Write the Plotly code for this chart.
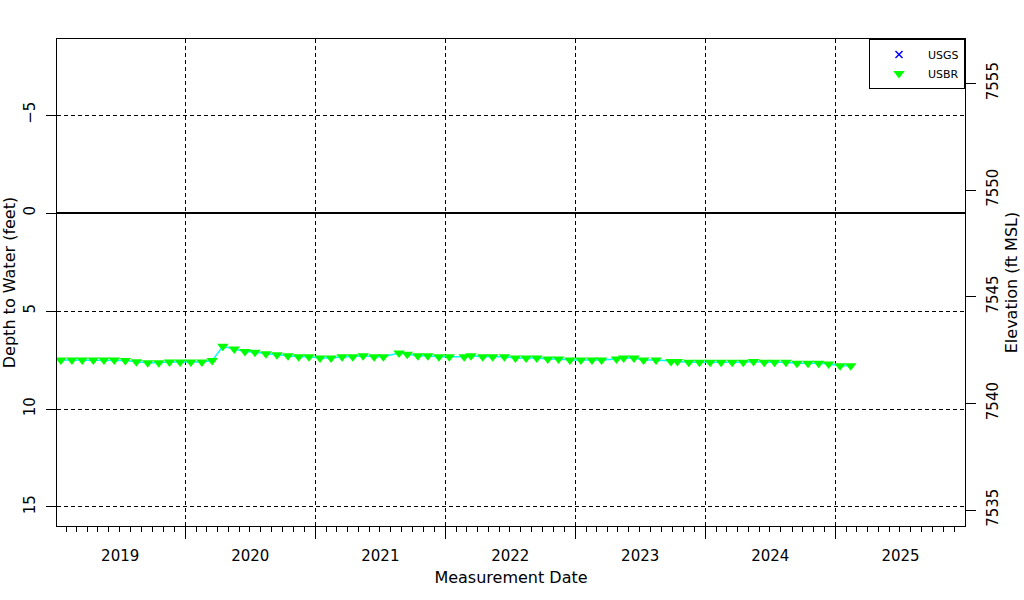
import plotly.graph_objects as go

# ---- data ----
dates = [
    "2019-01-17", "2019-02-17", "2019-03-18", "2019-04-18", "2019-05-18", "2019-06-16",
    "2019-07-17", "2019-08-17", "2019-09-18", "2019-10-19", "2019-11-18", "2019-12-18",
    "2020-01-17", "2020-02-17", "2020-03-17", "2020-04-16", "2020-05-18", "2020-06-17",
    "2020-07-15", "2020-08-15", "2020-09-15", "2020-10-16", "2020-11-15", "2020-12-14",
    "2021-01-14", "2021-02-14", "2021-03-17", "2021-04-16", "2021-05-15", "2021-06-15",
    "2021-07-11", "2021-08-24", "2021-09-16", "2021-10-16", "2021-11-13", "2021-12-14",
    "2022-01-12", "2022-02-23", "2022-03-14", "2022-04-16", "2022-05-14", "2022-06-16",
    "2022-07-17", "2022-08-16", "2022-09-15", "2022-10-16", "2022-11-15", "2022-12-17",
    "2023-01-17", "2023-02-17", "2023-03-16", "2023-04-27", "2023-05-17", "2023-06-15",
    "2023-07-12", "2023-08-16", "2023-09-27", "2023-10-15", "2023-11-16", "2023-12-16",
    "2024-01-15", "2024-02-15", "2024-03-17", "2024-04-17", "2024-05-16", "2024-06-15",
    "2024-07-14", "2024-08-15", "2024-09-15", "2024-10-16", "2024-11-15", "2024-12-13",
    "2025-01-14", "2025-02-13",
]
depth_ft = [
    7.50, 7.50, 7.50, 7.50, 7.50, 7.50,
    7.53, 7.59, 7.64, 7.64, 7.60, 7.60,
    7.60, 7.60, 7.53, 6.80, 6.94, 7.06,
    7.11, 7.18, 7.23, 7.28, 7.33, 7.33,
    7.40, 7.40, 7.33, 7.33, 7.28, 7.33,
    7.33, 7.14, 7.20, 7.28, 7.28, 7.33,
    7.33, 7.33, 7.28, 7.33, 7.33, 7.33,
    7.40, 7.40, 7.40, 7.45, 7.45, 7.50,
    7.50, 7.50, 7.50, 7.45, 7.40, 7.40,
    7.50, 7.50, 7.57, 7.57, 7.62, 7.62,
    7.62, 7.62, 7.62, 7.62, 7.57, 7.62,
    7.62, 7.62, 7.67, 7.67, 7.67, 7.71,
    7.79, 7.79,
]
depth_ticks = [-5, 0, 5, 10, 15]
elev_ticks = [7535, 7540, 7545, 7550, 7555]
depth_range = [15.97, -8.88]
elev_range = [7534.25, 7557.08]
date_range = ["2019-01-06", "2025-12-31"]

FONT = "DejaVu Sans"
fig = go.Figure()

fig.add_trace(go.Scatter(
    x=dates, y=depth_ft, mode="lines",
    line=dict(color="#00FFFF", width=1.5),
    showlegend=False, hoverinfo="skip",
))
fig.add_trace(go.Scatter(
    x=[None], y=[None], mode="markers", name="USGS",
    marker=dict(symbol="x-thin-open", size=7, color="#0000FF",
                line=dict(color="#0000FF", width=1.5)),
))
fig.add_trace(go.Scatter(
    x=dates, y=depth_ft, mode="markers", name="USBR",
    marker=dict(symbol="triangle-down", size=10, color="#00FF00",
                line=dict(width=0)),
))
fig.add_trace(go.Scatter(
    x=[None], y=[None], yaxis="y2", showlegend=False, hoverinfo="skip",
))

tickfont = dict(family=FONT, size=15, color="black")
titlefont = dict(family=FONT, size=16, color="black")

fig.update_layout(
    width=1024, height=600, autosize=False,
    paper_bgcolor="white", plot_bgcolor="white",
    margin=dict(l=57, r=59, t=39, b=74),
    font=dict(family=FONT, color="black"),
    xaxis=dict(
        type="date", range=date_range, automargin=False,
        tick0="2019-01-01", dtick="M12", tickformat="%Y",
        ticklabelmode="period", ticklabelstandoff=4,
        ticks="outside", ticklen=12, tickcolor="black", tickwidth=1,
        showline=True, linecolor="black", linewidth=1, mirror=True,
        showgrid=True, gridcolor="black", gridwidth=1, griddash="4px,3px",
        zeroline=False,
        minor=dict(dtick="M1", tick0="2019-01-01", ticks="outside",
                   ticklen=5, tickcolor="black", showgrid=False),
        tickfont=tickfont,
        title=dict(text="Measurement Date", font=titlefont, standoff=7),
    ),
    yaxis=dict(
        range=depth_range, tickvals=depth_ticks, automargin=False,
        ticks="outside", ticklen=10, tickcolor="black",
        tickangle=-90, ticklabelstandoff=5,
        showline=True, linecolor="black", linewidth=1, mirror=True,
        showgrid=True, gridcolor="black", gridwidth=1, griddash="4px,3px",
        zeroline=True, zerolinecolor="black", zerolinewidth=2,
        tickfont=tickfont,
        title=dict(text="Depth to Water (feet)", font=titlefont, standoff=3),
    ),
    yaxis2=dict(
        overlaying="y", side="right", anchor="x", automargin=False,
        range=elev_range, tickvals=elev_ticks,
        ticks="outside", ticklen=10, tickcolor="black",
        tickangle=-90, ticklabelstandoff=4,
        showline=False, showgrid=False, zeroline=False,
        tickfont=tickfont,
        title=dict(text="Elevation (ft MSL)", font=titlefont, standoff=4),
    ),
    legend=dict(
        x=1, y=1, xanchor="right", yanchor="top",
        bgcolor="white", bordercolor="black", borderwidth=1,
        font=dict(family=FONT, size=11, color="black"),
        itemwidth=48, tracegroupgap=0,
    ),
    showlegend=True,
)

fig.write_html(
    "out.html",
    config={"displayModeBar": False},
    post_script="document.body.style.margin='0';",
)
